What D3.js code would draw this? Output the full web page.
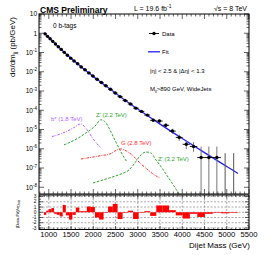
<!DOCTYPE html>
<html><head><meta charset="utf-8">
<script src="https://cdn.jsdelivr.net/npm/d3@7"></script>
<style>body{margin:0;background:#fff} text{font-family:"Liberation Sans",Arial,sans-serif}</style>
</head><body><svg id="c" width="266" height="255"></svg>
<script>
// ---------------- data ----------------
const binEdges = [890, 944, 1000, 1058, 1118, 1181, 1246, 1313, 1383, 1455, 1530, 1607, 1687, 1770, 1856, 1945, 2037, 2132, 2231, 2332, 2438, 2546, 2659, 2775, 2895, 3019, 3147, 3279, 3416, 3558, 3704, 3854, 4010, 4171, 4337, 4509, 4686, 4869, 5058, 5253];
const dataValues = [0.93, 0.69, 0.52, 0.38, 0.275, 0.20, 0.145, 0.102, 0.072, 0.051, 0.036, 0.026, 0.0178, 0.0126, 0.0087, 0.0060, 0.0041, 0.00275, 0.00186, 0.00123, 7.9e-4, 5.1e-4, 3.2e-4, 2.1e-4, 1.29e-4, 8.7e-5, 5.6e-5, 3.0e-5, 2.75e-5, 1.66e-5, 8.3e-6, 3.9e-6, 1.7e-6, 1.32e-6, 3.5e-7, 3.5e-7, 3.5e-7, 0, 0];
const dataErrHigh = [null,null,null,null,null,null,null,null,null,null,null,null,null,null,null,null,null,null,null,null,null,null,null,null,null,null,null, 3.6e-5, 3.3e-5, 2.1e-5, 1.1e-5, 5.5e-6, 2.7e-6, 2.2e-6, 1.3e-6, 1.3e-6, 1.3e-6, 5.9e-7, 5.9e-7];
const dataErrLow  = [null,null,null,null,null,null,null,null,null,null,null,null,null,null,null,null,null,null,null,null,null,null,null,null,null,null,null, 2.5e-5, 2.25e-5, 1.3e-5, 6.0e-6, 2.6e-6, 9.5e-7, 7e-7, 1e-10, 1e-10, 1e-10, 1e-10, 1e-10];
const ratioValues = [-0.5, 0.3, 0.6, 0.8, -0.3, -0.5, -0.8, 1.4, -0.6, -1.4, -0.5, 0.9, 0.2, 0.2, 1.1, 1.0, -1.0, -1.4, 0.05, 1.1, 1.6, -1.3, 0.0, 0.3, -1.3, -0.1, 0.2, -0.7, 1.3, 1.3, 0.4, -0.6, -1.2, -0.3, -0.9, -0.3, 0.05, -0.2, 0.05];

const fitMass   = [890, 1000, 1200, 1400, 1600, 1800, 2000, 2200, 2400, 2600, 2800, 3000, 3500, 4000, 4500, 5000, 5253];
const fitValues = [1.07, 0.60, 0.214, 0.079, 0.032, 0.0132, 5.75e-3, 2.57e-3, 1.15e-3, 5.2e-4, 2.4e-4, 1.15e-4, 1.9e-5, 3.4e-6, 6.3e-7, 1.2e-7, 5.2e-8];

const bstarMass   = [1072, 1312, 1537, 1724, 1836, 1987, 2173];
const bstarValues = [4.3e-6, 6.5e-6, 1.15e-5, 1.95e-5, 1.15e-5, 3.5e-6, 1.07e-6];
const zp22Mass    = [1342, 1589, 1836, 2038, 2173, 2286, 2398, 2510, 2623, 2758];
const zp22Values  = [1.6e-6, 2.9e-6, 6.6e-6, 1.5e-5, 3.2e-5, 2.2e-5, 7.4e-6, 2.2e-6, 6.8e-7, 2.0e-7];
const g28Mass     = [1724, 1926, 2151, 2376, 2533, 2623, 2735, 2893, 3051, 3207, 3342, 3500];
const g28Values   = [2.95e-7, 3.5e-7, 4.3e-7, 5.4e-7, 8.7e-7, 9.8e-7, 7.8e-7, 4.3e-7, 1.8e-7, 8.9e-8, 4.9e-8, 3.0e-8];
const zp32Mass    = [1993, 2218, 2443, 2623, 2803, 2915, 3051, 3185, 3297, 3410, 3544, 3679, 3814, 3926];
const zp32Values  = [1.66e-8, 2.4e-8, 3.5e-8, 4.9e-8, 7.9e-8, 1.6e-7, 4.3e-7, 6.8e-7, 6.0e-7, 2.6e-7, 1.0e-7, 3.4e-8, 1.17e-8, 4.5e-9];

const xTickValues = [1000, 1500, 2000, 2500, 3000, 3500, 4000, 4500, 5000, 5500];
const yDecades = [-8, -7, -6, -5, -4, -3, -2, -1, 0, 1];
const ratioTicks = [-3, -2, -1, 0, 1, 2, 3];

// ---------------- layout ----------------
const svg = d3.select("#c");
const L = 39, R = 249, T = 14, B = 194, RT = 195, RB = 229.5;
const x = d3.scaleLinear().domain([780, 5500]).range([L, R]);
const y = d3.scaleLog().domain([Math.pow(10, -8.35), 10]).range([B, T]);
const yr = d3.scaleLinear().domain([-3.3, 3.3]).range([RB, RT]);

svg.append("rect").attr("width", 266).attr("height", 255).attr("fill", "#fff");
const defs = svg.append("defs");
defs.append("clipPath").attr("id", "cm").append("rect").attr("x", L).attr("y", T).attr("width", R - L).attr("height", B - T);
defs.append("clipPath").attr("id", "cr").append("rect").attr("x", L).attr("y", RT).attr("width", R - L).attr("height", RB - RT);

// ---------------- main pane ----------------
const gm = svg.append("g").attr("clip-path", "url(#cm)");
function sigLine(ms, vs, color, dash) {
  const pts = ms.map((m, i) => [x(m), y(vs[i])]);
  gm.append("path").attr("d", d3.line().curve(d3.curveMonotoneX)(pts))
    .attr("fill", "none").attr("stroke", color).attr("stroke-width", 1).attr("stroke-dasharray", dash);
}
sigLine(bstarMass, bstarValues, "#b45cff", "2.5,1.2,0.8,1.2");
sigLine(zp22Mass, zp22Values, "#2aa52a", "2.5,1.5");
sigLine(g28Mass, g28Values, "#ff2b2b", "2.5,1.2,0.8,1.2");
sigLine(zp32Mass, zp32Values, "#2aa52a", "2.5,1.5");

// fit
gm.append("path").attr("d", d3.line().curve(d3.curveMonotoneX)(fitMass.map((m, i) => [x(m), y(fitValues[i])])))
  .attr("fill", "none").attr("stroke", "#2222ff").attr("stroke-width", 1.3);

// data
const centers = binEdges.slice(0, -1).map((e, i) => (e + binEdges[i + 1]) / 2);
centers.forEach((c, i) => {
  const v = dataValues[i];
  if (dataErrHigh[i] != null) {
    gm.append("line").attr("x1", x(c)).attr("x2", x(c))
      .attr("y1", y(dataErrHigh[i])).attr("y2", y(Math.max(dataErrLow[i], 1e-10)))
      .attr("stroke", v > 0 ? "#777" : "#555").attr("stroke-width", 1);
  }
  if (v > 0) {
    gm.append("line").attr("x1", x(binEdges[i])).attr("x2", x(binEdges[i + 1]))
      .attr("y1", y(v)).attr("y2", y(v)).attr("stroke", "#000").attr("stroke-width", 0.9);
    gm.append("circle").attr("cx", x(c)).attr("cy", y(v)).attr("r", 1.7).attr("fill", "#000");
  }
});

// main frame & ticks
const fr = svg.append("g").attr("stroke", "#000").attr("fill", "none");
fr.append("rect").attr("x", L).attr("y", T).attr("width", R - L).attr("height", B - T).attr("stroke-width", 1);
for (let m = 800; m <= 5500; m += 100) {
  const major = m % 500 === 0;
  const len = major ? 5 : 2.5;
  fr.append("line").attr("x1", x(m)).attr("x2", x(m)).attr("y1", B).attr("y2", B - len).attr("stroke-width", 0.6);
  fr.append("line").attr("x1", x(m)).attr("x2", x(m)).attr("y1", T).attr("y2", T + len).attr("stroke-width", 0.6);
}
yDecades.forEach(k => {
  for (let j = 1; j <= 9; j++) {
    const v = j * Math.pow(10, k);
    if (v < y.domain()[0] || v > y.domain()[1] * 1.0001) continue;
    const len = j === 1 ? 5 : 2.5;
    fr.append("line").attr("x1", L).attr("x2", L + len).attr("y1", y(v)).attr("y2", y(v)).attr("stroke-width", 0.6);
    fr.append("line").attr("x1", R).attr("x2", R - len).attr("y1", y(v)).attr("y2", y(v)).attr("stroke-width", 0.6);
  }
});
// y labels
yDecades.forEach(k => {
  const t = svg.append("text").attr("x", 37).attr("y", y(Math.pow(10, k)) + 2.3).attr("text-anchor", "end").attr("font-size", 6.5);
  if (k === 0) t.text("1");
  else if (k === 1) t.text("10");
  else { t.append("tspan").text("10"); t.append("tspan").attr("font-size", 4.5).attr("dy", -2.8).text(k); }
});
svg.append("text").attr("transform", "translate(15,47) rotate(-90)").attr("text-anchor", "middle").attr("font-size", 8)
  .call(t => { t.append("tspan").text("dσ/dm"); t.append("tspan").attr("font-size", 5.5).attr("dy", 2).text("jj"); t.append("tspan").attr("dy", -2).text(" (pb/GeV)"); });

// ---------------- ratio pane ----------------
const gr = svg.append("g");
ratioTicks.forEach(v => {
  gr.append("line").attr("x1", L).attr("x2", R).attr("y1", yr(v)).attr("y2", yr(v))
    .attr("stroke", "#555").attr("stroke-width", 0.5).attr("stroke-dasharray", "2,1.5");
});
xTickValues.forEach(m => {
  gr.append("line").attr("x1", x(m)).attr("x2", x(m)).attr("y1", RT).attr("y2", RB)
    .attr("stroke", "#555").attr("stroke-width", 0.5).attr("stroke-dasharray", "2,1.5");
});
const grc = svg.append("g").attr("clip-path", "url(#cr)");
ratioValues.forEach((r, i) => {
  const y0 = yr(0), y1 = yr(r);
  grc.append("rect").attr("x", x(binEdges[i])).attr("width", x(binEdges[i + 1]) - x(binEdges[i]))
    .attr("y", Math.min(y0, y1)).attr("height", Math.max(0.6, Math.abs(y1 - y0))).attr("fill", "#ff0000");
});
const fr2 = svg.append("g").attr("stroke", "#000").attr("fill", "none");
fr2.append("rect").attr("x", L).attr("y", RT).attr("width", R - L).attr("height", RB - RT).attr("stroke-width", 1);
for (let m = 800; m <= 5500; m += 100) {
  const major = m % 500 === 0;
  const len = major ? 3.5 : 1.8;
  fr2.append("line").attr("x1", x(m)).attr("x2", x(m)).attr("y1", RB).attr("y2", RB - len).attr("stroke-width", 0.6);
  fr2.append("line").attr("x1", x(m)).attr("x2", x(m)).attr("y1", RT).attr("y2", RT + len).attr("stroke-width", 0.6);
}
for (let v = -3; v <= 3; v += 0.5) {
  const len = Number.isInteger(v) ? 4 : 2;
  fr2.append("line").attr("x1", L).attr("x2", L + len).attr("y1", yr(v)).attr("y2", yr(v)).attr("stroke-width", 0.6);
  fr2.append("line").attr("x1", R).attr("x2", R - len).attr("y1", yr(v)).attr("y2", yr(v)).attr("stroke-width", 0.6);
}
ratioTicks.forEach(v => {
  svg.append("text").attr("x", 36.5).attr("y", yr(v) + 1.7).attr("text-anchor", "end").attr("font-size", 4.8).text(v);
});
svg.append("text").attr("transform", "translate(18.5,214) rotate(-90)").attr("text-anchor", "middle").attr("font-size", 4.3)
  .call(t => { t.append("tspan").text("(Data-Fit)/σ"); t.append("tspan").attr("font-size", 3.2).attr("dy", 1.3).text("Data"); });

// x labels
xTickValues.forEach(m => {
  svg.append("text").attr("x", x(m)).attr("y", 237).attr("text-anchor", "middle").attr("font-size", 7.6).text(m);
});
svg.append("text").attr("x", 250).attr("y", 247.5).attr("text-anchor", "end").attr("font-size", 8).text("Dijet Mass (GeV)");

// ---------------- texts & legend ----------------
svg.append("text").attr("x", 40).attr("y", 13).attr("font-size", 8.5).attr("font-weight", "bold").text("CMS Preliminary");
svg.append("text").attr("x", 134).attr("y", 10.5).attr("font-size", 7)
  .call(t => { t.append("tspan").text("L = 19.6 fb"); t.append("tspan").attr("font-size", 4.8).attr("dy", -2.8).text("-1"); });
svg.append("text").attr("x", 247).attr("y", 10.5).attr("text-anchor", "end").attr("font-size", 7).text("√s = 8 TeV");
svg.append("text").attr("x", 53).attr("y", 28).attr("font-size", 6.5).text("0 b-tags");

svg.append("line").attr("x1", 149).attr("x2", 159).attr("y1", 33.5).attr("y2", 33.5).attr("stroke", "#000").attr("stroke-width", 0.9);
svg.append("circle").attr("cx", 154).attr("cy", 33.5).attr("r", 1.7).attr("fill", "#000");
svg.append("text").attr("x", 162).attr("y", 35.6).attr("font-size", 6).text("Data");
svg.append("line").attr("x1", 148).attr("x2", 160).attr("y1", 51.8).attr("y2", 51.8).attr("stroke", "#2222ff").attr("stroke-width", 1.3);
svg.append("text").attr("x", 162).attr("y", 54).attr("font-size", 6).text("Fit");
svg.append("text").attr("x", 150).attr("y", 73).attr("font-size", 6).text("|η| < 2.5 & |Δη| < 1.3");
svg.append("text").attr("x", 150).attr("y", 90.5).attr("font-size", 6)
  .call(t => { t.append("tspan").text("M"); t.append("tspan").attr("font-size", 4).attr("dy", 1.5).text("jj"); t.append("tspan").attr("dy", -1.5).text(">890 GeV, WideJets"); });

svg.append("text").attr("x", 51).attr("y", 120.5).attr("font-size", 6).attr("fill", "#b45cff").text("b* (1.8 TeV)");
svg.append("text").attr("x", 96).attr("y", 116.5).attr("font-size", 6).attr("fill", "#2aa52a").text("Z' (2.2 TeV)");
svg.append("text").attr("x", 121).attr("y", 145).attr("font-size", 6).attr("fill", "#ff2b2b").text("G (2.8 TeV)");
svg.append("text").attr("x", 158).attr("y", 160.5).attr("font-size", 6).attr("fill", "#2aa52a").text("Z' (3.2 TeV)");
</script></body></html>
